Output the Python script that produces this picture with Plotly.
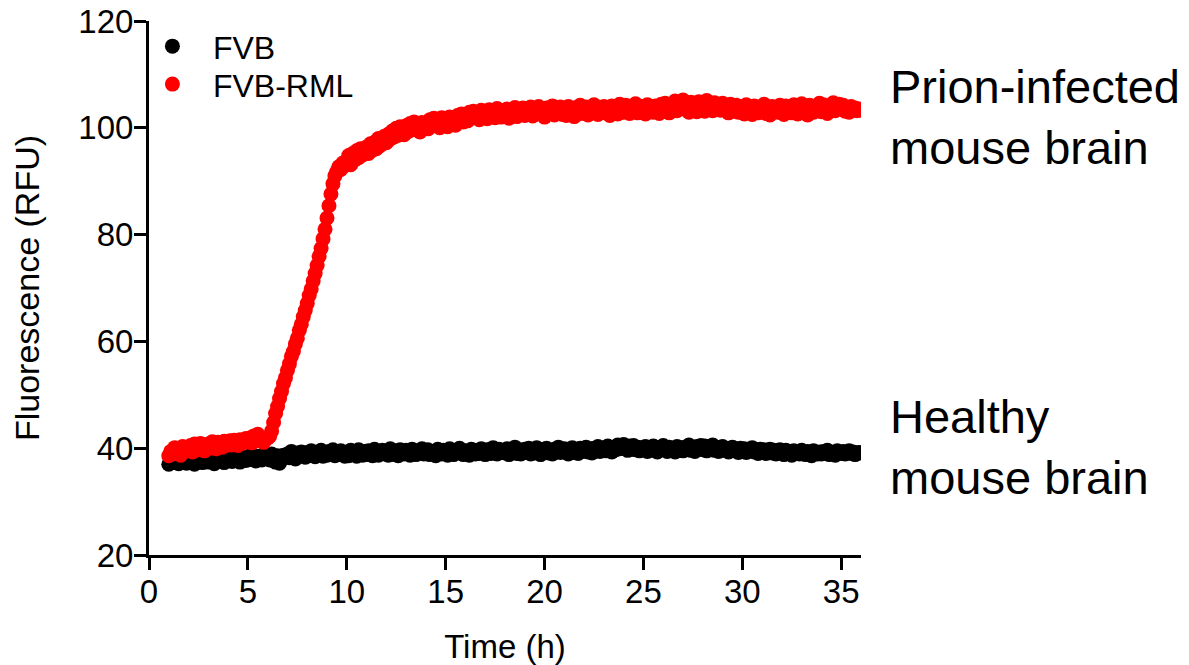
import plotly.graph_objects as go

# Sampling schedule: one plate reading every 0.1 h from 1.0 h to 36.0 h
time_h = [round(1.0 + 0.1 * i, 1) for i in range(351)]

series_names = ["FVB", "FVB-RML"]

# Healthy mouse brain (FVB) fluorescence, RFU (one row per hour)
fvb_rfu = [
    37.0, 37.9, 37.3, 38.2, 37.6, 37.1, 38.0, 37.4, 37.8, 37.2,
    38.1, 37.5, 37.9, 37.0, 38.3, 37.6, 38.0, 37.3, 38.2, 37.7,
    37.4, 38.4, 37.8, 37.1, 38.1, 37.6, 38.5, 37.9, 37.3, 38.2,
    37.8, 38.3, 37.5, 38.6, 37.9, 38.1, 37.4, 38.5, 38.0, 37.7,
    38.4, 37.9, 38.7, 38.0, 37.6, 38.5, 38.2, 37.8, 38.8, 38.1,
    38.3, 37.8, 38.9, 38.1, 37.4, 38.6, 37.2, 38.0, 38.7, 38.4,
    38.9, 38.2, 39.4, 38.6, 38.0, 39.1, 38.5, 39.3, 38.7, 38.3,
    39.2, 38.6, 39.5, 38.9, 38.4, 39.3, 38.8, 39.6, 38.5, 39.0,
    38.7, 39.4, 38.9, 39.7, 38.6, 39.2, 38.8, 39.5, 39.0, 38.5,
    39.3, 38.6, 39.6, 38.9, 39.2, 38.5, 39.7, 39.0, 38.7, 39.4,
    38.8, 39.5, 39.1, 38.6, 39.8, 39.0, 38.7, 39.3, 39.6, 38.9,
    39.4, 38.7, 39.9, 39.1, 38.8, 39.5, 38.6, 39.7, 39.2, 38.9,
    39.6, 39.0, 38.7, 39.8, 39.3, 38.8, 39.5, 39.1, 39.9, 38.9,
    39.2, 39.7, 38.8, 39.4, 39.0, 38.6, 39.8, 39.3, 38.9, 39.6,
    39.1, 38.7, 39.9, 39.4, 38.8, 39.6, 39.2, 40.0, 39.0, 38.8,
    39.5, 39.1, 38.7, 39.8, 39.3, 38.9, 39.6, 39.0, 39.9, 39.2,
    38.8, 39.7, 39.3, 39.0, 40.1, 39.4, 38.9, 39.8, 39.2, 39.5,
    39.1, 39.9, 38.8, 39.6, 39.3, 40.2, 39.0, 39.7, 38.9, 39.4,
    39.8, 39.2, 40.0, 38.9, 39.5, 39.1, 40.1, 39.4, 38.8, 39.7,
    39.3, 40.0, 39.1, 39.6, 38.9, 39.8, 39.4, 40.2, 39.2, 39.5,
    39.9, 39.3, 38.9, 39.7, 40.1, 39.2, 39.6, 39.0, 40.0, 39.4,
    39.5, 40.2, 39.3, 39.8, 39.1, 40.0, 39.6, 40.3, 39.4, 39.7,
    40.1, 39.5, 40.4, 39.8, 39.3, 40.2, 39.7, 40.6, 39.9, 40.3,
    40.7, 40.0, 39.6, 40.4, 39.8, 40.5, 39.7, 40.2, 39.5, 40.1,
    39.8, 40.3, 39.4, 40.0, 39.6, 40.4, 39.9, 39.3, 40.1, 39.7,
    40.5, 39.9, 39.4, 40.2, 39.6, 40.0, 39.3, 40.3, 39.7, 40.1,
    39.5, 40.2, 39.8, 40.6, 39.6, 40.0, 39.4, 40.3, 39.9, 40.5,
    39.7, 40.4, 39.5, 40.1, 39.8, 40.6, 39.6, 40.2, 39.4, 39.9,
    40.3, 39.6, 40.0, 39.3, 39.9, 40.2, 39.5, 39.8, 39.2, 40.0,
    39.4, 39.9, 39.2, 39.7, 39.5, 40.1, 39.3, 39.6, 39.0, 39.8,
    39.3, 39.7, 39.0, 39.5, 39.8, 39.1, 39.6, 38.9, 39.4, 39.7,
    39.2, 38.8, 39.6, 39.0, 39.4, 38.7, 39.5, 39.1, 39.3, 38.9,
    39.6, 39.0, 38.8, 39.4, 39.1, 38.6, 39.5, 39.2, 38.9, 39.3,
    38.9, 39.4, 39.0, 39.6, 38.8, 39.3, 39.1, 38.7, 39.5, 39.2,
    39.0, 39.4, 38.9, 39.2, 39.5, 39.0, 39.3, 38.8, 39.1, 39.2,
    39.1,
]

# Prion-infected mouse brain (FVB-RML) fluorescence, RFU (one row per hour)
fvb_rml_rfu = [
    38.6, 39.4, 38.9, 40.1, 39.2, 39.8, 38.7, 40.3, 39.5, 40.0,
    39.6, 40.5, 39.3, 40.8, 40.1, 39.7, 40.9, 40.2, 39.5, 40.6,
    40.8, 40.0, 41.2, 40.4, 39.9, 41.1, 40.6, 40.2, 41.3, 40.5,
    40.7, 41.4, 40.6, 41.5, 41.0, 40.5, 41.6, 40.9, 41.3, 41.8,
    41.2, 41.9, 41.0, 42.3, 41.5, 42.6, 41.4, 41.8, 41.1, 41.7,
    41.9, 42.2, 43.2, 44.8, 46.5, 47.8, 49.3, 50.6, 52.1, 53.2,
    54.6, 55.8, 57.2, 58.1, 59.5, 60.6, 62.1, 63.2, 64.6, 65.8,
    67.1, 68.6, 69.8, 71.3, 72.7, 74.2, 75.9, 77.4, 79.2, 81.0,
    83.1, 85.4, 87.6, 89.5, 91.0, 91.8, 92.7, 92.2, 93.4, 92.9,
    93.6, 94.8, 93.1, 95.2, 94.0, 95.7, 94.4, 96.1, 94.9, 95.5,
    96.4, 95.2, 97.0, 95.8, 97.3, 96.1, 98.0, 96.7, 97.6, 98.4,
    97.2, 98.8, 97.9, 99.4, 98.3, 99.9, 98.6, 100.2, 99.1, 98.7,
    100.4, 99.3, 100.8, 99.6, 101.1, 99.9, 100.5, 99.2, 101.0, 100.1,
    100.7, 99.8, 101.5, 100.3, 101.8, 100.6, 101.2, 100.0, 101.9, 100.9,
    101.3, 100.2, 102.0, 101.0, 101.7, 100.5, 102.3, 101.4, 102.6, 101.1,
    102.4, 101.3, 102.9, 101.8, 103.1, 102.0, 102.7, 101.5, 103.3, 102.2,
    102.6, 101.7, 103.4, 102.3, 103.0, 101.9, 103.6, 102.5, 102.0, 103.2,
    102.4, 103.5, 101.8, 103.1, 102.7, 103.8, 102.1, 103.3, 102.5, 103.7,
    102.3, 103.6, 102.8, 103.9, 102.2, 103.4, 102.6, 104.0, 102.9, 103.1,
    102.0, 103.7, 102.7, 103.2, 104.1, 102.4, 103.5, 102.8, 103.9, 102.5,
    103.6, 102.3, 104.0, 102.9, 103.4, 102.1, 103.8, 102.6, 104.2, 103.0,
    102.7, 103.9, 102.4, 103.6, 102.9, 104.3, 103.1, 102.5, 103.7, 103.3,
    104.0, 102.8, 103.5, 102.3, 104.1, 103.0, 103.8, 102.6, 104.4, 103.2,
    102.9, 104.2, 103.4, 102.7, 103.9, 103.1, 104.5, 102.8, 103.6, 104.0,
    103.3, 102.6, 104.3, 103.0, 103.7, 102.9, 104.1, 103.5, 102.7, 104.4,
    103.1, 104.6, 103.4, 102.8, 104.0, 103.6, 105.0, 103.2, 104.2, 103.7,
    105.2, 103.5, 104.4, 102.9, 104.8, 103.8, 104.1, 103.0, 104.9, 103.6,
    104.3, 103.1, 105.1, 103.9, 104.5, 103.2, 104.7, 103.8, 104.0, 103.3,
    104.6, 103.4, 104.1, 102.8, 104.4, 103.7, 103.1, 104.2, 102.9, 104.0,
    103.5, 102.6, 104.3, 103.0, 103.8, 102.5, 104.1, 103.3, 102.8, 103.9,
    103.2, 104.4, 102.7, 103.6, 102.4, 104.0, 103.1, 103.7, 102.9, 104.2,
    103.4, 102.5, 104.1, 103.0, 103.8, 102.8, 104.3, 103.2, 102.6, 103.9,
    104.5, 103.1, 103.7, 102.4, 104.2, 103.5, 102.9, 104.0, 103.3, 104.6,
    103.0, 104.3, 103.6, 102.7, 104.1, 103.4, 104.7, 103.2, 103.9, 104.4,
    103.6, 104.2, 103.1, 103.8, 102.9, 104.0, 103.4, 103.7, 103.2, 103.5,
    103.3,
]

x_tick_vals = [0, 5, 10, 15, 20, 25, 30, 35]
y_tick_vals = [20, 40, 60, 80, 100, 120]

label_texts = ["Prion-infected<br>mouse brain", "Healthy<br>mouse brain"]
label_y = [102.1, 40.3]

FONT = "Liberation Sans, Arial, sans-serif"

fig = go.Figure()
fig.add_trace(go.Scatter(
    x=time_h, y=fvb_rfu, mode="markers", name=series_names[0],
    marker=dict(color="#000000", size=15, line=dict(width=0)),
    legend="legend",
))
fig.add_trace(go.Scatter(
    x=time_h, y=fvb_rml_rfu, mode="markers", name=series_names[1],
    marker=dict(color="#FF0000", size=15, line=dict(width=0)),
    legend="legend2",
))

for txt, yy in zip(label_texts, label_y):
    fig.add_annotation(
        text=txt, xref="paper", x=1.038, yref="y", y=yy,
        xanchor="left", yanchor="middle", align="left", showarrow=False,
        font=dict(family=FONT, size=47, color="#000000"),
    )

axis_common = dict(
    showline=True, linewidth=3, linecolor="#000000",
    ticks="outside", ticklen=12, tickwidth=3, tickcolor="#000000",
    showgrid=False, zeroline=False, ticklabeloverflow="allow",
    tickfont=dict(family=FONT, size=33, color="#000000"),
)

legend_common = dict(
    xanchor="left", yanchor="top",
    font=dict(family=FONT, size=32, color="#000000"),
    bgcolor="rgba(0,0,0,0)", itemsizing="trace", itemwidth=71,
)

fig.update_layout(
    width=1189, height=665,
    paper_bgcolor="#FFFFFF", plot_bgcolor="#FFFFFF",
    margin=dict(l=149, r=328, t=21, b=110, autoexpand=False),
    showlegend=True,
    legend=dict(x=-0.024, y=1.004, **legend_common),
    legend2=dict(x=-0.024, y=0.933, **legend_common),
    xaxis=dict(range=[0, 36], tickvals=x_tick_vals, ticklabelstandoff=-7,
               title=dict(text="Time (h)", standoff=30,
                          font=dict(family=FONT, size=33, color="#000000")),
               **axis_common),
    yaxis=dict(range=[20, 120], tickvals=y_tick_vals, ticklabelstandoff=-6,
               title=dict(text="Fluorescence (RFU)", standoff=29,
                          font=dict(family=FONT, size=34, color="#000000")),
               **axis_common),
)

# Remove the browser's default 8 px page margin so the figure fills the window
fig.write_html(
    "out.html",
    config={"displayModeBar": False},
    post_script="document.body.style.margin = '0';",
)
